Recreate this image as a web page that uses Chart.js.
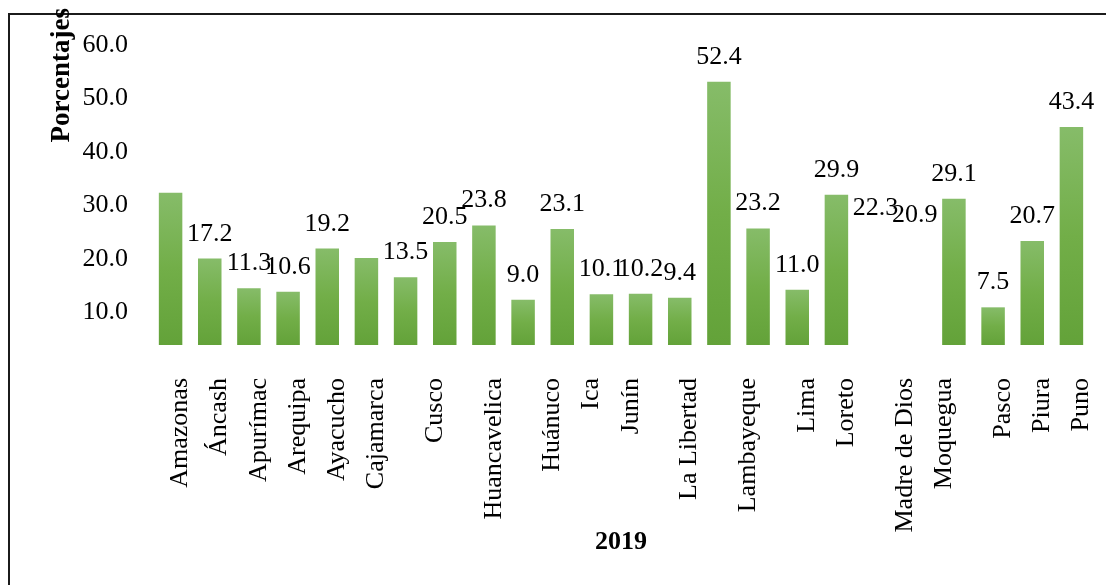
<!DOCTYPE html>
<html>
<head>
<meta charset="utf-8">
<script src="https://cdn.jsdelivr.net/npm/chart.js@4.4.0/dist/chart.umd.min.js"></script>
<style>
  html, body { margin: 0; padding: 0; background: #fff; overflow: hidden; }
  #frame {
    position: absolute; left: 8px; top: 13px; width: 1300px; height: 800px;
    border-top: 2px solid #1b1b1b; border-left: 2px solid #1b1b1b;
  }
  #wrap { position: absolute; left: 0; top: 0; width: 1106px; height: 585px; }
</style>
</head>
<body>
<div id="frame"></div>
<div id="wrap"><canvas id="js-chart" width="1106" height="585"></canvas></div>
<script>
// alturas de las barras (hay dos huecos sin barra y dos barras sin etiqueta)
const BAR_VALUES = [30.3, 17.2, 11.3, 10.6, 19.2, 17.3, 13.5, 20.5, 23.8, 9.0, 23.1, 10.1,
                    10.2, 9.4, 52.4, 23.2, 11.0, 29.9, null, null, 29.1, 7.5, 20.7, 43.4];
const LABEL_VALUES = [null, 17.2, 11.3, 10.6, 19.2, null, 13.5, 20.5, 23.8, 9.0, 23.1, 10.1,
                      10.2, 9.4, 52.4, 23.2, 11.0, 29.9, 22.3, 20.9, 29.1, 7.5, 20.7, 43.4];
const SLOTS = BAR_VALUES.map((_, i) => "b" + (i + 1));

// nombres del eje x, en medias posiciones
const REGION_LABELS = [
  "", "Amazonas", "", "Áncash", "", "Apurímac", "", "Arequipa", "", "Ayacucho", "", "Cajamarca",
  "", "", "Cusco", "", "", "Huancavelica", "", "", "Huánuco", "", "Ica", "",
  "Junín", "", "", "La Libertad", "", "", "Lambayeque", "", "", "Lima", "", "Loreto",
  "", "", "Madre de Dios", "", "Moquegua", "", "", "Pasco", "", "Piura", "", "Puno",
];
const Y_TICKS = [10, 20, 30, 40, 50, 60];

Chart.defaults.font.family = "'Liberation Serif', 'Times New Roman', serif";
Chart.defaults.font.size = 26;
Chart.defaults.color = "#000";

function barGradient(context) {
  const chart = context.chart;
  if (!chart.chartArea || context.type !== "data" || context.raw == null) return "#70ad47";
  const y = chart.scales.y;
  const top = y.getPixelForValue(context.raw);
  const base = y.getPixelForValue(0);
  const g = chart.ctx.createLinearGradient(0, top, 0, base);
  g.addColorStop(0, "#86bc69");
  g.addColorStop(0.5, "#72ae48");
  g.addColorStop(1, "#63a239");
  return g;
}

const valueLabels = {
  id: "valueLabels",
  afterDatasetsDraw(chart) {
    const { ctx, scales: { x, y } } = chart;
    ctx.save();
    ctx.font = "26px 'Liberation Serif', 'Times New Roman', serif";
    ctx.fillStyle = "#000";
    ctx.textAlign = "center";
    ctx.textBaseline = "alphabetic";
    LABEL_VALUES.forEach((v, i) => {
      if (v == null) return;
      ctx.fillText(v.toFixed(1), x.getPixelForValue(i), y.getPixelForValue(v) - 18);
    });
    ctx.restore();
  },
};

const context = document.getElementById("js-chart").getContext("2d");

const regionsChart = new Chart(context, {
  type: "bar",
  data: {
    labels: SLOTS,
    datasets: [
      {
        data: BAR_VALUES,
        backgroundColor: barGradient,
        borderWidth: 0,
        barPercentage: 0.6,
        categoryPercentage: 1,
      },
    ],
  },
  options: {
    responsive: false,
    animation: false,
    layout: { padding: { left: 42, right: 15, top: 8, bottom: 0 } },
    plugins: { legend: { display: false }, tooltip: { enabled: false } },
    scales: {
      x: { display: false },
      y: { display: false, min: 0, max: 67.1 },
      xNames: {
        type: "category",
        labels: REGION_LABELS,
        position: "bottom",
        offset: true,
        grid: { display: false, drawTicks: false },
        border: { display: false },
        ticks: { autoSkip: false, maxRotation: 90, minRotation: 90, padding: 33, color: "#000" },
        title: {
          display: true,
          text: "2019",
          color: "#000",
          font: { size: 26, weight: "bold" },
          padding: { top: 0, bottom: 27 },
        },
        afterFit: (scale) => {
          scale.height = 240;
          scale.paddingLeft = 0;
          scale.paddingRight = 0;
        },
      },
      yTicks: {
        type: "linear",
        position: "left",
        min: 3.93,
        max: 66.9,
        grid: { display: false, drawTicks: false },
        border: { display: false },
        afterBuildTicks: (scale) => {
          scale.ticks = Y_TICKS.map((v) => ({ value: v }));
        },
        ticks: {
          padding: 23,
          color: "#000",
          callback: function (value) {
            return Number(value).toFixed(1);
          },
        },
        title: {
          display: true,
          text: "Porcentajes",
          align: "end",
          color: "#000",
          font: { size: 27, weight: "bold" },
          padding: { top: 4, bottom: 4 },
        },
        afterFit: (scale) => {
          scale.width = 109;
          scale.paddingTop = 0;
          scale.paddingBottom = 0;
        },
      },
    },
  },
  plugins: [valueLabels],
});
</script>
</body>
</html>
